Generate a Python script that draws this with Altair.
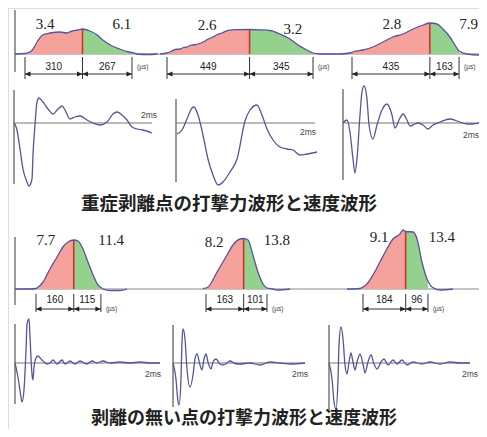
import altair as alt
import pandas as pd

# ======================= DATA =======================
# Impact-force waveforms, severe delamination (t: µs from impact onset, f: force, arbitrary units)
A1_t = [-54, 0, 20, 40, 65, 95, 135, 190, 225, 255, 285, 310, 350, 390, 420, 460, 510, 560, 577, 605, 660, 715]
A1_f = [0, 0.05, 0.15, 0.4, 1.2, 1.9, 2.1, 2.2, 2.1, 2.3, 2.4, 2.5, 2.3, 1.9, 1.4, 0.9, 0.5, 0.2, 0.15, 0.0, -0.05, 0.0]
A2_t = [-38, 0, 16, 45, 71, 90, 109, 125, 141, 170, 196, 225, 250, 275, 299, 332, 381, 449, 506, 560, 614, 669, 712, 761, 794, 832]
A2_f = [0, 0.1, 0.2, 0.45, 0.5, 0.65, 0.7, 0.85, 0.9, 1.0, 1.2, 1.5, 1.7, 1.95, 2.1, 2.37, 2.43, 2.45, 2.42, 2.35, 2.0, 1.5, 0.9, 0.4, 0.1, 0.0]
A3_t = [-179, -67, 0, 6, 61, 117, 173, 229, 285, 341, 397, 435, 475, 508, 547, 575, 598, 642, 715, 754]
A3_f = [0, 0, 0.15, 0.2, 0.4, 0.7, 1.2, 1.7, 2.0, 2.5, 2.9, 3.1, 3.0, 2.5, 1.7, 0.9, 0.3, 0.0, -0.1, -0.1]

# Impact-force waveforms, no delamination
C1_t = [-89, -25, 0, 4, 30, 59, 89, 114, 136, 160, 178, 199, 220, 242, 263, 275, 284, 314, 356, 386]
C1_f = [0, 0, 0.05, 0.1, 0.7, 2.0, 3.2, 4.2, 4.7, 4.9, 4.8, 4.0, 2.7, 1.4, 0.4, 0.15, 0, -0.15, -0.15, 0]
C2_t = [-13, 0, 9, 48, 91, 117, 147, 163, 182, 203, 225, 247, 264, 290, 307, 364]
C2_f = [0.05, 0.1, 0.2, 1.7, 3.4, 4.4, 5.0, 5.05, 4.9, 3.4, 1.7, 0.5, 0.1, 0, -0.1, 0]
C3_t = [-69, -13, 0, 17, 43, 73, 103, 129, 159, 172, 184, 216, 233, 254, 276, 280, 297, 332, 388]
C3_f = [0, 0.05, 0.2, 0.5, 1.4, 2.7, 4.0, 5.0, 5.5, 5.9, 5.75, 5.7, 5.0, 2.7, 1.0, 0.8, 0.2, -0.1, 0]

# Velocity waveforms, severe delamination (t: ms, v: arbitrary units)
B1_t = [0, .043, .087, .130, .188, .217, .261, .275, .304, .333, .362, .420, .493, .565, .638, .696,
        .739, .812, .884, .957, 1.058, 1.145, 1.246, 1.348, 1.435, 1.493, 1.565, 1.638, 1.710, 1.783, 1.870, 2.0]
B1_v = [0, -.7, -2.6, -4.6, -5.9, -6.3, -5.6, -3.2, -.2, 2.1, 2.5, 2.1, 1.4, .9, 1.4, 1.7,
        1.3, .4, .6, .7, .3, 0, -.2, .1, .9, 1.1, .8, .3, -.4, -.6, -.7, -1.0]
B2_t = [.014, .086, .158, .230, .259, .317, .388, .460, .532, .604, .676, .777, .878, .993, 1.065,
        1.165, 1.237, 1.309, 1.396, 1.496, 1.597, 1.683, 1.784, 1.885, 2.029]
B2_v = [-1.1, -.7, .4, 1.5, 1.6, .8, -1.2, -3.6, -5.2, -6.2, -5.9, -4.9, -3.6, .2, 1.3,
        1.8, .8, -.6, -1.7, -2.4, -2.6, -2.7, -3.2, -3.1, -2.9]
B3_t = [0, .058, .102, .146, .175, .204, .248, .277, .307, .35, .38, .438, .496, .569, .642, .715,
        .759, .818, .876, .934, .978, 1.05, 1.095, 1.168, 1.241, 1.314, 1.416, 1.562, 1.664, 1.81, 1.898, 2.0]
B3_v = [0, .3, -.9, -3.6, -5.0, -3.6, .8, 3.1, 3.7, 2.4, -.2, -1.6, -.2, 1.3, 1.9, .8,
        -.5, .3, .9, .3, -.3, -.1, 0, -.2, -.6, -.2, .1, .4, .2, -.1, -.1, 0]

# Velocity waveforms, no delamination
D1_t = [0, .041, .083, .097, .124, .152, .166, .193, .207, .234, .248, .262, .29, .317, .372, .441, .483,
        .524, .579, .648, .69, .759, .828, .897, .993, 1.062, 1.131, 1.214, 1.31, 1.448, 1.586, 1.724, 1.862, 2.0]
D1_v = [0, -1.4, -3.4, -3.9, -2.7, 1.3, 3.9, 4.4, 2.6, -1.1, -1.7, -.4, .5, .7, .3, -.1, 0,
        .3, -.1, .3, -.1, .2, -.1, .2, -.1, .2, 0, .2, 0, .1, 0, .1, 0, 0]
D2_t = [0, .045, .076, .091, .121, .136, .152, .182, .212, .258, .303, .333, .364, .409, .439, .47, .5,
        .53, .576, .606, .652, .712, .758, .818, .864, .939, 1.015, 1.167, 1.318, 1.47, 1.621, 1.773, 2.0]
D2_v = [0, -1.6, -3.9, -4.2, -1.6, 2.1, 3.4, 2.4, -.6, -2.4, -1.2, .4, .9, -.2, -.7, .4, .9,
        .1, -.6, .1, .4, -.1, -.2, 0, .2, -.05, -.1, 0, -.2, .1, 0, -.1, 0]
D3_t = [0, .043, .071, .099, .128, .142, .17, .199, .227, .255, .284, .312, .34, .369, .397, .44, .482, .511,
        .553, .596, .638, .681, .738, .78, .837, .908, .965, 1.035, 1.106, 1.191, 1.319, 1.433, 1.574, 1.716, 1.858, 2.0]
D3_v = [0, -1.6, -3.9, -4.6, -1.6, 1.8, 3.6, 2.4, -.2, -1.1, .1, 1.0, .1, -.7, .1, .9, -.1, -1.0,
        .1, .8, -.1, -.6, .1, .4, -.2, .3, -.1, .3, -.2, .1, -.1, .1, -.1, .1, 0, 0]

# Rise / fall durations (µs) and slope values
A_RISE = [310, 449, 435]
A_FALL = [267, 345, 163]
A_SLOPE_RISE = [3.4, 2.6, 2.8]
A_SLOPE_FALL = [6.1, 3.2, 7.9]
C_RISE = [160, 163, 184]
C_FALL = [115, 101, 96]
C_SLOPE_RISE = [7.7, 8.2, 9.1]
C_SLOPE_FALL = [11.4, 13.8, 13.4]

TITLE_1 = "重症剥離点の打撃力波形と速度波形"
TITLE_2 = "剥離の無い点の打撃力波形と速度波形"
UNIT_US = "(µs)"
UNIT_MS = "2ms"

# ======================= LAYOUT / STYLE =======================
# One plot area; every panel gets its own independent scales mapped onto it.
# Reference-pixel coordinates: the area shows reference x 8..479 and y (8+SHIFT)..(429+SHIFT).
W, H = 471, 421
SHIFT = 3
PX0, PX1 = 8, 8 + W
PY0, PY1 = 8 + SHIFT, 8 + SHIFT + H
U = 10.0  # px per amplitude unit

ROW_A_ZERO = 57
ROW_B_ZERO = 126
ROW_C_ZERO = 292
ROW_D_ZERO = 366
T1_Y, T2_Y = 207, 422
T1_X, T2_X = 229, 244

A_START = [25, 167, 352]
A_K = [0.1854, 0.1839, 0.179]
C_START = [36, 206, 363]
C_K = [0.236, 0.231, 0.232]
A_BASE = [(15, 160), (160, 320), (320, 487)]
C_BASE = [(15, 160), (160, 320), (320, 480)]
A_AXIS = (15, 4.4, -1.8)
C_AXIS = (15, 5.2, -1.6)
A_DIM = (-0.3, -2.5, -2.0, -1.3, -1.3)   # tick hi, tick lo, arrow, number, unit
C_DIM = (-0.5, -2.3, -2.0, -1.1, -2.0)
A_SLOPE_POS = [((108, 3.0), (523, 3.0)), ((218, 2.9), (685, 2.5)), ((223, 3.0), (652, 3.0))]
C_SLOPE_POS = [((42, 4.9), (318, 4.9)), ((35, 4.7), (307, 4.9)), ((69, 5.2), (340, 5.2))]

B_AX = [14, 176, 343]
B_END = [152, 315, 480]
B_AXIS_EXT = [(3.3, -6.1), (2.4, -5.9), (3.4, -5.7)]
B_LBL = [0.8, -0.9, -1.2]
B_LBL_DX = [5, 1, -1]
D_AX = [15, 173, 329]
D_END = [160, 305, 470]
D_AXIS_EXT = [(3.9, -4.1), (3.8, -4.4), (3.8, -4.7)]
D_LBL = [-1.1, -1.1, -1.1]
D_LBL_DX = [1, 3, 8]

RED_FILL = "#f5a29d"
GREEN_FILL = "#93d18c"
RED_LINE = "#e8202a"
CURVE = "#55559c"
GRAY = "#8a8a8a"
INK = "#222222"
LEFT_HEAD = "M0,0L1,-0.45L1,0.45Z"
RIGHT_HEAD = "M0,0L-1,-0.45L-1,0.45Z"


def yscale(zero):
    return alt.Scale(domain=[(zero - PY1) / U, (zero - PY0) / U], nice=False, zero=False)


def force_panel(t, f, rise, fall, s_rise, s_fall, zero, start_px, k, base_px, axis, dim, spos):
    xs = alt.Scale(domain=[(PX0 - start_px) / k, (PX1 - start_px) / k], nice=False, zero=False)
    ys = yscale(zero)
    x = alt.X("t:Q", scale=xs, axis=None)
    y = alt.Y("f:Q", scale=ys, axis=None)
    end = rise + fall
    curve = pd.DataFrame({"t": t, "f": f})
    peak_f = dict(zip(t, f))[rise]
    layers = []
    base = pd.DataFrame({"t": [(base_px[0] - start_px) / k], "t2": [(base_px[1] - start_px) / k], "f": [0.0]})
    layers.append(alt.Chart(base).mark_rule(color=GRAY, strokeWidth=1.2).encode(x=x, x2="t2:Q", y=y))
    if axis is not None:
        ax = pd.DataFrame({"t": [(axis[0] - start_px) / k], "f": [axis[1]], "f2": [axis[2]]})
        layers.append(alt.Chart(ax).mark_rule(color="#777777", strokeWidth=1.5).encode(x=x, y=y, y2="f2:Q"))
    layers.append(alt.Chart(curve).transform_filter(f"datum.t >= 0 && datum.t <= {rise}")
                  .mark_area(color=RED_FILL, interpolate="monotone").encode(x=x, y=y, y2=alt.datum(0)))
    layers.append(alt.Chart(curve).transform_filter(f"datum.t >= {rise} && datum.t <= {end}")
                  .mark_area(color=GREEN_FILL, interpolate="monotone").encode(x=x, y=y, y2=alt.datum(0)))
    pk = pd.DataFrame({"t": [rise], "f": [0.0], "f2": [peak_f]})
    layers.append(alt.Chart(pk).mark_rule(color=RED_LINE, strokeWidth=1.5).encode(x=x, y=y, y2="f2:Q"))
    layers.append(alt.Chart(curve).mark_line(color=CURVE, strokeWidth=1.3, interpolate="monotone").encode(x=x, y=y))
    thi, tlo, ay, ny, uy = dim
    ticks = pd.DataFrame({"t": [0, rise, end], "f": [thi] * 3, "f2": [tlo] * 3})
    layers.append(alt.Chart(ticks).mark_rule(color="#333333", strokeWidth=1).encode(x=x, y=y, y2="f2:Q"))
    arr = pd.DataFrame({"t": [0], "t2": [end], "f": [ay]})
    layers.append(alt.Chart(arr).mark_rule(color="#333333", strokeWidth=1).encode(x=x, x2="t2:Q", y=y))
    lh = pd.DataFrame({"t": [0, rise], "f": [ay, ay]})
    rh = pd.DataFrame({"t": [rise, end], "f": [ay, ay]})
    layers.append(alt.Chart(lh).mark_point(shape=LEFT_HEAD, size=120, filled=True, color="#222222", opacity=1)
                  .encode(x=x, y=y))
    layers.append(alt.Chart(rh).mark_point(shape=RIGHT_HEAD, size=120, filled=True, color="#222222", opacity=1)
                  .encode(x=x, y=y))
    nums = pd.DataFrame({"t": [rise / 2, rise + fall / 2], "f": [ny, ny], "txt": [str(rise), str(fall)]})
    layers.append(alt.Chart(nums).mark_text(font="Liberation Sans", fontSize=10, color=INK, baseline="middle")
                  .encode(x=x, y=y, text="txt:N"))
    un = pd.DataFrame({"t": [end], "f": [uy], "txt": [UNIT_US]})
    layers.append(alt.Chart(un).mark_text(font="Liberation Sans", fontSize=6.5, color="#444444", align="left",
                                          baseline="middle", dx=5).encode(x=x, y=y, text="txt:N"))
    sl = pd.DataFrame({"t": [spos[0][0], spos[1][0]], "f": [spos[0][1], spos[1][1]],
                       "txt": [str(s_rise), str(s_fall)]})
    layers.append(alt.Chart(sl).mark_text(font="Liberation Serif", fontSize=15, color=INK, baseline="middle")
                  .encode(x=x, y=y, text="txt:N"))
    return alt.layer(*layers)


def vel_panel(t, v, zero, a, b, axis_ext, lbl_v, lbl_dx):
    s = (b - a) / 2.0
    xs = alt.Scale(domain=[(PX0 - a) / s, (PX1 - a) / s], nice=False, zero=False)
    ys = yscale(zero)
    x = alt.X("t:Q", scale=xs, axis=None)
    y = alt.Y("v:Q", scale=ys, axis=None)
    layers = []
    ax = pd.DataFrame({"t": [0.0], "v": [axis_ext[0]], "v2": [axis_ext[1]]})
    layers.append(alt.Chart(ax).mark_rule(color="#777777", strokeWidth=1.5).encode(x=x, y=y, y2="v2:Q"))
    zl = pd.DataFrame({"t": [0.0], "t2": [2.0], "v": [0.0]})
    layers.append(alt.Chart(zl).mark_rule(color="#777777", strokeWidth=1.2).encode(x=x, x2="t2:Q", y=y))
    cur = pd.DataFrame({"t": t, "v": v})
    layers.append(alt.Chart(cur).mark_line(color=CURVE, strokeWidth=1.3, interpolate="monotone").encode(x=x, y=y))
    lb = pd.DataFrame({"t": [2.0], "v": [lbl_v], "txt": [UNIT_MS]})
    layers.append(alt.Chart(lb).mark_text(font="Liberation Sans", fontSize=8.5, color="#444444", align="right",
                                          baseline="middle", dx=lbl_dx).encode(x=x, y=y, text="txt:N"))
    return alt.layer(*layers)


def title_text(text, cx, cy, size):
    df = pd.DataFrame({"txt": [text]})
    return alt.Chart(df).mark_text(font="Noto Sans CJK JP", fontSize=size, fontWeight="bold", color=INK,
                                   align="center", baseline="middle").encode(
        x=alt.value(cx - PX0), y=alt.value(cy - PY0), text="txt:N"
    )


A_T = [A1_t, A2_t, A3_t]
A_F = [A1_f, A2_f, A3_f]
C_T = [C1_t, C2_t, C3_t]
C_F = [C1_f, C2_f, C3_f]
B_T = [B1_t, B2_t, B3_t]
B_V = [B1_v, B2_v, B3_v]
D_T = [D1_t, D2_t, D3_t]
D_V = [D1_v, D2_v, D3_v]

panels = []
for i in range(3):
    panels.append(force_panel(A_T[i], A_F[i], A_RISE[i], A_FALL[i], A_SLOPE_RISE[i], A_SLOPE_FALL[i],
                              ROW_A_ZERO, A_START[i], A_K[i], A_BASE[i], A_AXIS if i == 0 else None,
                              A_DIM, A_SLOPE_POS[i]))
    panels.append(vel_panel(B_T[i], B_V[i], ROW_B_ZERO, B_AX[i], B_END[i], B_AXIS_EXT[i], B_LBL[i], B_LBL_DX[i]))
    panels.append(force_panel(C_T[i], C_F[i], C_RISE[i], C_FALL[i], C_SLOPE_RISE[i], C_SLOPE_FALL[i],
                              ROW_C_ZERO, C_START[i], C_K[i], C_BASE[i], C_AXIS if i == 0 else None,
                              C_DIM, C_SLOPE_POS[i]))
    panels.append(vel_panel(D_T[i], D_V[i], ROW_D_ZERO, D_AX[i], D_END[i], D_AXIS_EXT[i], D_LBL[i], D_LBL_DX[i]))
panels.append(title_text(TITLE_1, T1_X, T1_Y, 18.5))
panels.append(title_text(TITLE_2, T2_X, T2_Y, 18))

chart = alt.layer(*panels).resolve_scale(x="independent", y="independent").properties(
    width=W, height=H, padding=0, autosize=alt.AutoSizeParams(type="none")
).configure_view(stroke=None).configure(background="white")

chart.save("out.html", embed_options={"renderer": "svg", "actions": False})
